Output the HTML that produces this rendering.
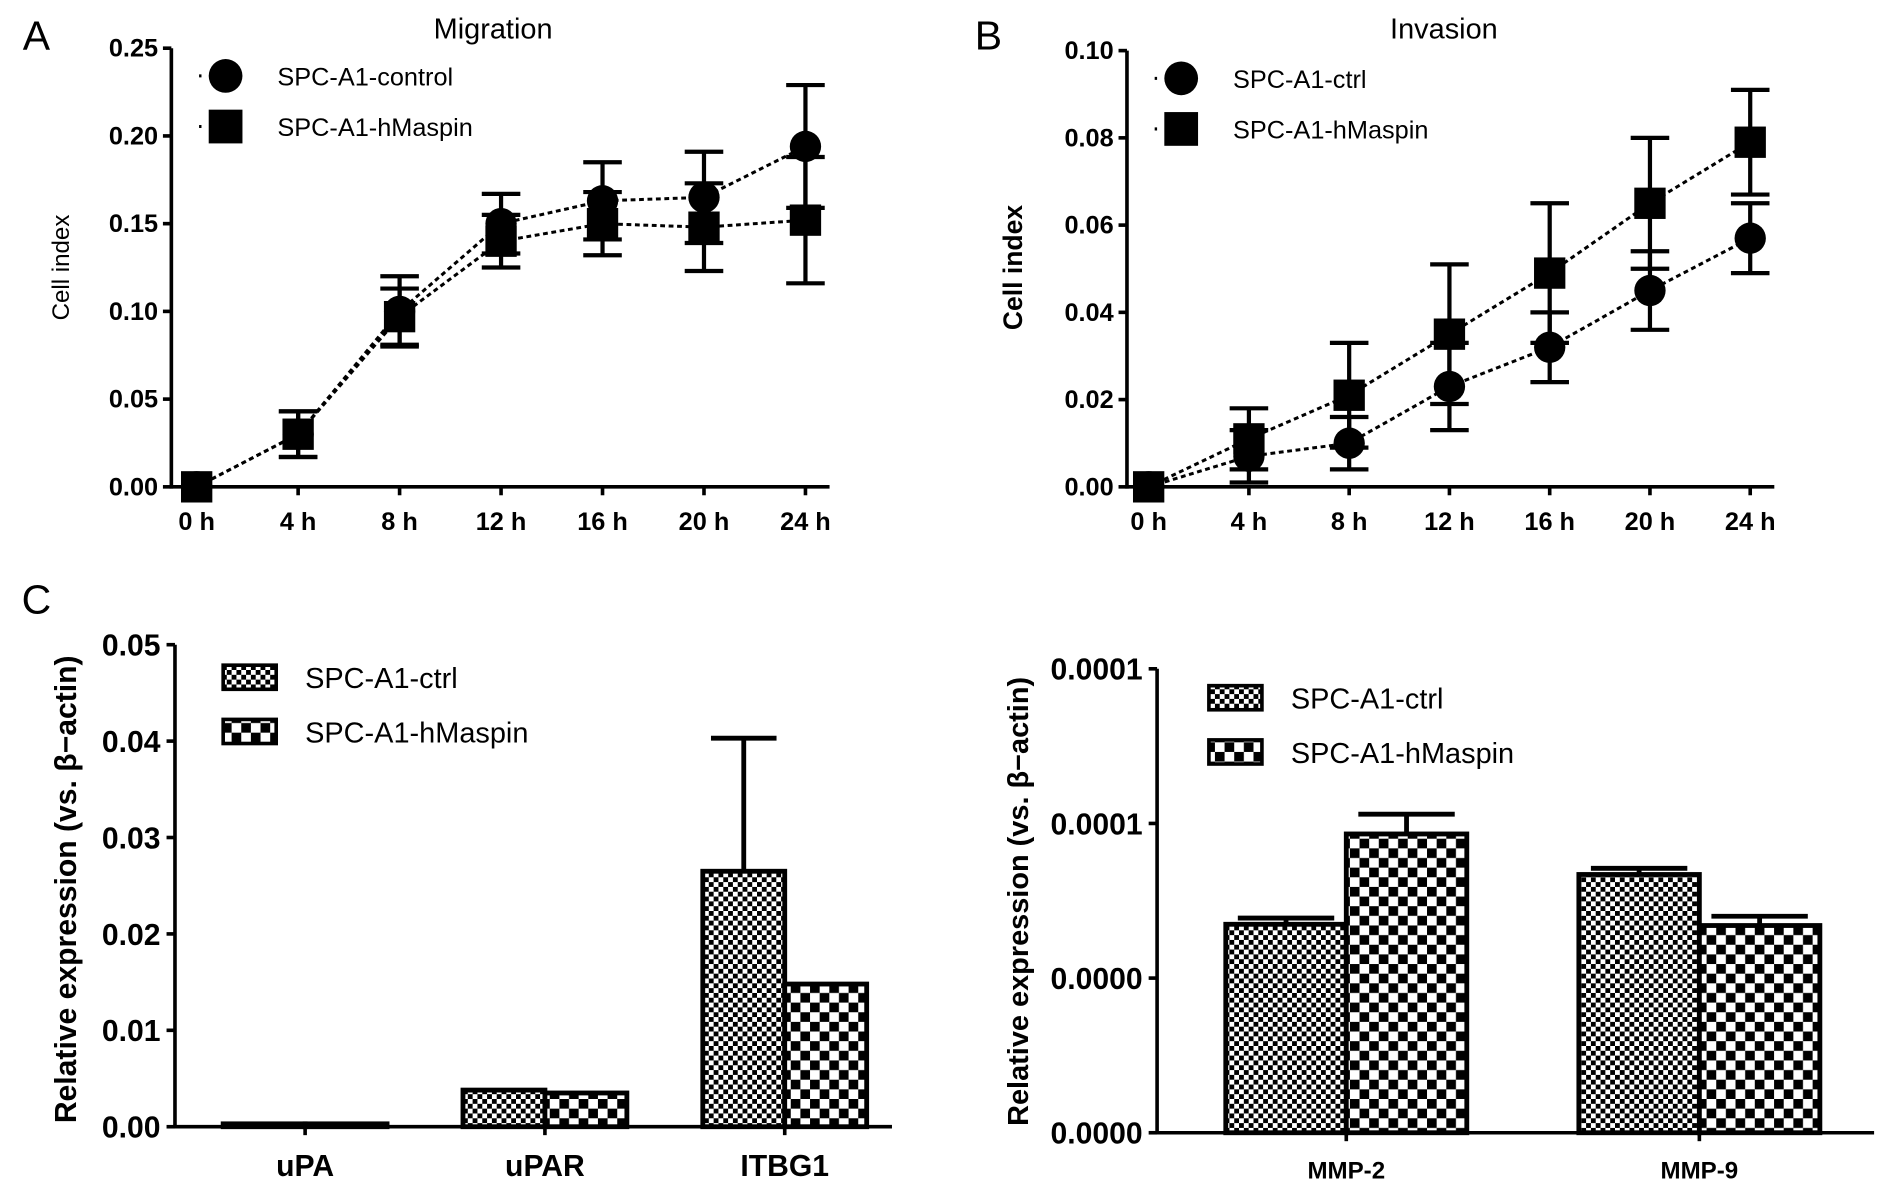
<!DOCTYPE html>
<html><head><meta charset="utf-8"><style>
html,body{margin:0;padding:0;background:#fff}
svg{display:block}
text{font-family:"Liberation Sans",sans-serif;fill:#000}
</style></head><body>
<svg id="fig" width="1890" height="1193" viewBox="0 0 1568 990">
<defs>
<pattern id="pCtrl" width="8" height="8" patternUnits="userSpaceOnUse"><rect width="8" height="8" fill="#fff"/><rect width="4" height="4" fill="#000"/><rect x="4" y="4" width="4" height="4" fill="#000"/></pattern>
<pattern id="pHm" width="16" height="16" patternUnits="userSpaceOnUse"><rect width="16" height="16" fill="#fff"/><rect width="8" height="8" fill="#000"/><rect x="8" y="8" width="8" height="8" fill="#000"/></pattern>
</defs>
<g id="root"></g>
</svg>
<script>
// Panel A data (Migration)
const aTimes=["0 h","4 h","8 h","12 h","16 h","20 h","24 h"];
const aCtrl=[0,0.03,0.100,0.150,0.163,0.165,0.194];
const aCtrlErr=[0,0.013,0.020,0.017,0.022,0.026,0.035];
const aHm=[0,0.030,0.097,0.140,0.150,0.148,0.152];
const aHmErr=[0,0.013,0.016,0.015,0.018,0.025,0.036];
const aTicks=["0.00","0.05","0.10","0.15","0.20","0.25"];
// Panel B data (Invasion)
const bCtrl=[0,0.007,0.010,0.023,0.032,0.045,0.057];
const bCtrlErr=[0,0.006,0.006,0.010,0.008,0.009,0.008];
const bHm=[0,0.011,0.021,0.035,0.049,0.065,0.079];
const bHmErr=[0,0.007,0.012,0.016,0.016,0.015,0.012];
const bTicks=["0.00","0.02","0.04","0.06","0.08","0.10"];
// Panel C left
const cCats=["uPA","uPAR","ITBG1"];
const cCtrl=[0.0003,0.0038,0.0265];
const cCtrlErr=[0,0,0.0138];
const cHm=[0.0003,0.0035,0.0148];
const cHmErr=[0,0,0];
const cTicks=["0.00","0.01","0.02","0.03","0.04","0.05"];
// Panel C right
const dCats=["MMP-2","MMP-9"];
const dCtrl=[0.674e-4,0.835e-4];
const dCtrlErr=[0.02e-4,0.02e-4];
const dHm=[0.966e-4,0.67e-4];
const dHmErr=[0.064e-4,0.03e-4];
const dTicks=["0.0000","0.0000","0.0001","0.0001"];

const NS="http://www.w3.org/2000/svg";
const root=document.getElementById('root');
function el(tag,attrs,parent,txt){const e=document.createElementNS(NS,tag);for(const k in attrs)e.setAttribute(k,attrs[k]);if(txt!==undefined)e.textContent=txt;(parent||root).appendChild(e);return e;}
function T(x,y,s,size,opts){opts=opts||{};const t=el('text',{x:x,y:y,'font-size':size,'text-anchor':opts.anchor||'start','font-weight':opts.bold?'bold':'normal'},opts.parent,s);if(opts.rot)t.setAttribute('transform','rotate(-90 '+x+' '+y+')');return t;}

function linePanel(o){
  const g=el('g',{});
  
  
  const ys=v=>o.y0-(v/o.max)*(o.y0-o.y1);
  const xs=i=>o.x0+i*o.dx;
  el('line',{x1:o.ax,y1:o.y1,x2:o.ax,y2:o.y0+1.5,stroke:'#000','stroke-width':3},g);
  el('line',{x1:o.ax,y1:o.y0,x2:xs(6)+20,y2:o.y0,stroke:'#000','stroke-width':3},g);
  o.ticks.forEach((t,i)=>{const v=o.max*i/(o.ticks.length-1),y=ys(v);
    el('line',{x1:o.ax-7,y1:y,x2:o.ax,y2:y,stroke:'#000','stroke-width':3},g);
    const tl=T(o.ax-11,y+7,t,21,{anchor:'end',bold:true,parent:g});
    });
  aTimes.forEach((t,i)=>{const x=xs(i);
    el('line',{x1:x,y1:o.y0,x2:x,y2:o.y0+7,stroke:'#000','stroke-width':3},g);
    const tl=T(x,o.y0+36,t,21,{anchor:'middle',bold:true,parent:g});
    });
  [[o.c,o.ce,'circle'],[o.h,o.he,'square']].forEach(([vals,errs,shape])=>{
    const pts=vals.map((v,i)=>xs(i)+','+ys(v)).join(' ');
    const pl=el('polyline',{points:pts,fill:'none',stroke:'#000','stroke-width':2.5,'stroke-dasharray':'4,3'},g);
    
    vals.forEach((v,i)=>{const x=xs(i);
      if(errs[i]>0){el('line',{x1:x,y1:ys(v+errs[i]),x2:x,y2:ys(v-errs[i]),stroke:'#000','stroke-width':3.5},g);
        [v+errs[i],v-errs[i]].forEach(e=>el('line',{x1:x-16,y1:ys(e),x2:x+16,y2:ys(e),stroke:'#000','stroke-width':3.5},g));}
      let m;
      if(shape==='circle')m=el('circle',{cx:x,cy:ys(v),r:13,fill:'#000'},g);
      else m=el('rect',{x:x-13,y:ys(v)-13,width:26,height:26,fill:'#000'},g);
      });
  });
  [[o.leg[0],'circle',o.ly1],[o.leg[1],'square',o.ly2]].forEach(([lab,shape,y])=>{
    el('line',{x1:o.lx-22,y1:y,x2:o.lx+10,y2:y,stroke:'#000','stroke-width':2.5,'stroke-dasharray':'2,10'},g);
    if(shape==='circle')el('circle',{cx:o.lx,cy:y,r:14,fill:'#000'},g);else el('rect',{x:o.lx-14,y:y-14,width:28,height:28,fill:'#000'},g);
    const lt=T(o.lx+43,y+8,lab,21,{parent:g});});
  const ti=T(o.tx,32,o.title,24,{anchor:'middle',parent:g});
  const yl=T(o.ylx,o.yly,'Cell index',o.ylsize,{anchor:'middle',rot:true,bold:o.ylbold,parent:g});
  const pl=T(o.px,41,o.plab,34,{anchor:'middle',parent:g});
}
linePanel({name:'migration-chart',ax:142,y0:404,y1:40,max:0.25,x0:163,dx:84.2,ticks:aTicks,c:aCtrl,ce:aCtrlErr,h:aHm,he:aHmErr,leg:['SPC-A1-control','SPC-A1-hMaspin'],lx:187,ly1:63,ly2:105,tx:409,title:'Migration',ylx:57,yly:222,ylsize:20,ylbold:false,px:30,plab:'A'});
linePanel({name:'invasion-chart',ax:935,y0:404,y1:42,max:0.10,x0:953,dx:83.2,ticks:bTicks,c:bCtrl,ce:bCtrlErr,h:bHm,he:bHmErr,leg:['SPC-A1-ctrl','SPC-A1-hMaspin'],lx:980,ly1:65,ly2:107,tx:1198,title:'Invasion',ylx:848,yly:222,ylsize:22,ylbold:true,px:820,plab:'B'});

function barPanel(o){
  const g=el('g',{});
  
  
  const ys=v=>o.y0-(v/o.max)*(o.y0-o.y1);
  el('line',{x1:o.ax,y1:o.y1,x2:o.ax,y2:o.y0+1.5,stroke:'#000','stroke-width':3},g);
  el('line',{x1:o.ax,y1:o.y0,x2:o.xend,y2:o.y0,stroke:'#000','stroke-width':3},g);
  o.ticks.forEach((t,i)=>{const v=o.max*i/(o.ticks.length-1),y=ys(v);
    el('line',{x1:o.ax-7,y1:y,x2:o.ax,y2:y,stroke:'#000','stroke-width':3},g);
    const tl=T(o.ax-12,y+9,t,25,{anchor:'end',bold:true,parent:g});});
  o.cats.forEach((c,i)=>{const cx=o.c0+i*o.dc;
    el('line',{x1:cx,y1:o.y0,x2:cx,y2:o.y0+7,stroke:'#000','stroke-width':3},g);
    const tl=T(cx,o.y0+o.lo,c,o.lsize,{anchor:'middle',bold:true,parent:g});
    [[o.c[i],o.ce[i],'url(#pCtrl)',-1,'ctrl'],[o.h[i],o.he[i],'url(#pHm)',0,'hmaspin']].forEach(([v,e,fill,off,nm])=>{
      const x=cx+off*o.bw;
      if(e>0){el('line',{x1:x+o.bw/2,y1:ys(v+e),x2:x+o.bw/2,y2:ys(v),stroke:'#000','stroke-width':4},g);
        el('line',{x1:x+o.bw/2-o.bw*0.4,y1:ys(v+e),x2:x+o.bw/2+o.bw*0.4,y2:ys(v+e),stroke:'#000','stroke-width':4},g);}
      const b=el('rect',{x:x,y:ys(v),width:o.bw,height:o.y0-ys(v),fill:fill,stroke:'#000','stroke-width':4},g);
      });
  });
  [['SPC-A1-ctrl','url(#pCtrl)',o.ly1],['SPC-A1-hMaspin','url(#pHm)',o.ly2]].forEach(([lab,fill,y])=>{
    el('rect',{x:o.lx,y:y-10,width:44,height:20,fill:fill,stroke:'#000','stroke-width':3},g);
    const lt=T(o.lx+68,y+9,lab,24,{parent:g});});
  const yl=T(o.ylx,o.yly,'Relative expression (vs. β−actin)',o.ysize,{anchor:'middle',rot:true,bold:true,parent:g});
}
barPanel({name:'expression-chart-left',ax:145,y0:935,y1:535,max:0.05,xend:740,ticks:cTicks,cats:cCats,c0:253,dc:199,bw:68,c:cCtrl,ce:cCtrlErr,h:cHm,he:cHmErr,lo:41,lsize:25,lx:185,ly1:562,ly2:607,ylx:63,yly:738,ysize:25});
barPanel({name:'expression-chart-right',ax:960,y0:940,y1:555,max:1.5e-4,xend:1555,ticks:dTicks,cats:dCats,c0:1117,dc:293,bw:100,c:dCtrl,ce:dCtrlErr,h:dHm,he:dHmErr,lo:38,lsize:20,lx:1003,ly1:579,ly2:624,ylx:853,yly:748,ysize:24});
const cl=T(30,509,'C',34,{anchor:'middle'});


</script>
</body></html>
